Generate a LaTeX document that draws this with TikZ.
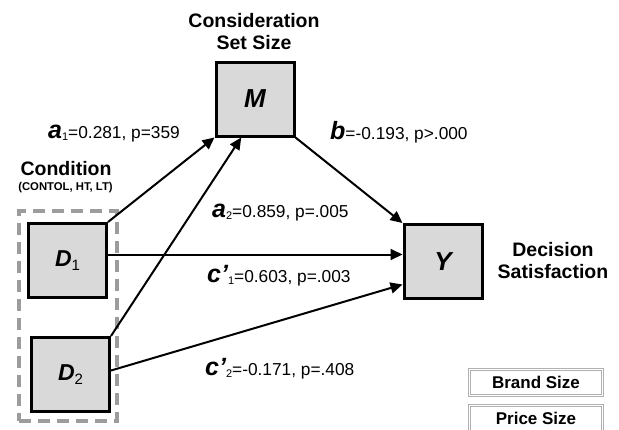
\documentclass[tikz,border=0pt]{standalone}
\usepackage{fontspec}
\setmainfont{Liberation Sans}
\usetikzlibrary{arrows.meta,calc}
\definecolor{boxgray}{HTML}{D9D9D9}
\definecolor{dashgray}{HTML}{9C9C9C}
\definecolor{framegray}{HTML}{B0B0B0}
\newcommand{\cvar}[1]{{\fontsize{25}{25}\selectfont\bfseries\itshape #1}}
\newcommand{\csub}[1]{\raisebox{-2pt}{\fontsize{11}{11}\selectfont #1}}
\newcommand{\dsub}[1]{\raisebox{-4pt}{\fontsize{15}{15}\selectfont\upshape\mdseries #1}}
\begin{document}
\begin{tikzpicture}[x=1pt,y=-1pt,
  var/.style={draw,line width=3pt,fill=boxgray,minimum width=78pt,minimum height=74pt,inner sep=0pt,font=\bfseries\itshape\fontsize{26}{26}\selectfont},
  dvar/.style={var,font=\bfseries\itshape\fontsize{23}{23}\selectfont},
  arr/.style={line width=2pt,-{Triangle[length=12pt,width=11pt]}},
  lbl/.style={anchor=base west,inner sep=0pt,font=\fontsize{17.3}{20}\selectfont},
  ttl/.style={align=center,font=\bfseries\fontsize{19.5}{22}\selectfont,inner sep=0pt},
  legbox/.style={draw=framegray,double=white,double distance=1.6pt,line width=0.7pt,minimum width=133pt,minimum height=26pt,inner sep=0pt,font=\bfseries\fontsize{17}{17}\selectfont},
  grpbox/.style={draw=dashgray,line width=3.5pt,dash pattern=on 12pt off 7pt,minimum width=98pt,minimum height=210pt,inner sep=0pt}
]
\useasboundingbox (0,0) rectangle (619,429);
\clip (0,0) rectangle (619,429);
\fill[white] (0,0) rectangle (619,429);

% group box
\node[grpbox] (grp) at (68,316) {};

% variable boxes
\node[var] (M) at (255,99) {M};
\node[dvar] (D1) at (67.5,260.5) {D\dsub{1}};
\node[dvar] (D2) at (70.5,374.5) {D\dsub{2}};
\node[var] (Y) at (443,261.5) {Y};

% titles
\node[ttl] (mtitle) at (254,32) {Consideration\\Set Size};
\node[ttl] (ytitle) at (553,261) {Decision\\Satisfaction};
\node[anchor=base,inner sep=0pt,font=\bfseries\fontsize{19.5}{22}\selectfont] (cond) at (66,175) {Condition};
\node[anchor=base,inner sep=0pt,font=\bfseries\fontsize{11.3}{13}\selectfont] (condsub) at (65.5,190.5) {(CONTOL, HT, LT)};

% arrows
\draw[arr] (D1.north east) -- (M.south west);
\draw[arr] (D2.north east) -- ($(M.south west)!0.33!(M.south east)$);
\draw[arr] (M.south east) -- (Y.north west);
\draw[arr] ([yshift=6pt]D1.east) -- ([yshift=6pt]D1.east -| Y.west);
\draw[arr] ([yshift=4pt]D2.east) -- ([yshift=-23pt]Y.west);

% coefficient labels
\node[lbl] (la1) at (48,138) {\cvar{a}\csub{1}=0.281, p=359};
\node[lbl] (lb) at (330,139) {\cvar{b}=-0.193, p>.000};
\node[lbl] (la2) at (212,217) {\cvar{a}\csub{2}=0.859, p=.005};
\node[lbl] (lc1) at (207,282) {\cvar{c’}\csub{1}=0.603, p=.003};
\node[lbl] (lc2) at (205,375) {\cvar{c’}\csub{2}=-0.171, p=.408};

% legend boxes
\node[legbox] (brand) at (536,382.5) {Brand Size};
\node[legbox] (price) at (536,418.5) {Price Size};
\end{tikzpicture}
\end{document}
